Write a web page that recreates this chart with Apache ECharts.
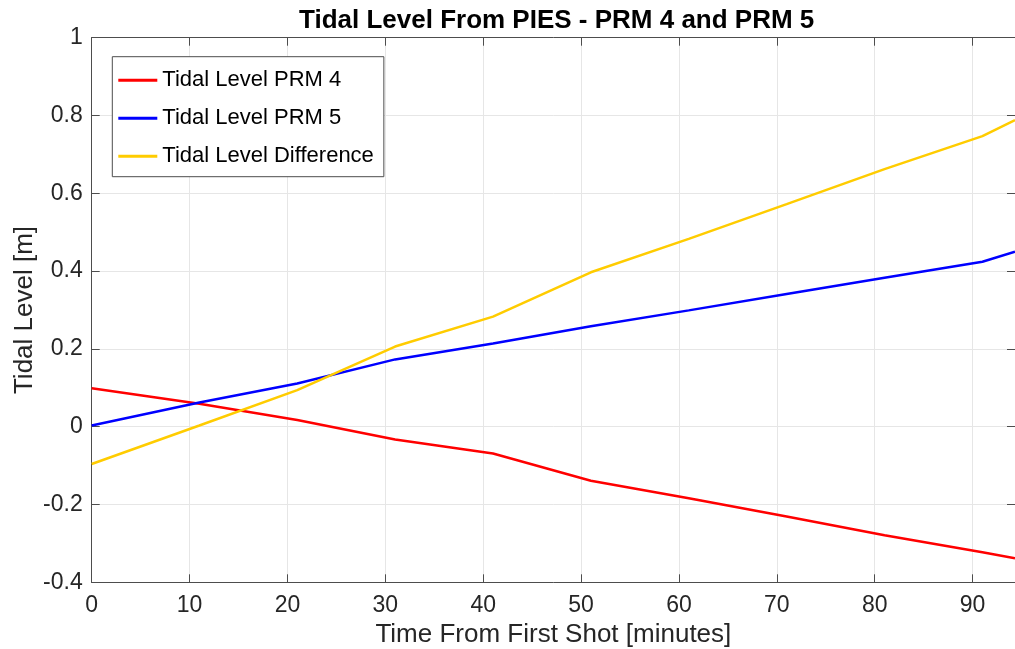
<!DOCTYPE html>
<html>
<head>
<meta charset="utf-8">
<script src="https://cdn.jsdelivr.net/npm/echarts@6/dist/echarts.min.js"></script>
<style>
html,body{margin:0;padding:0;background:#fff;}
#chart{width:1015px;height:649px;}
</style>
</head>
<body>
<div id="chart"></div>
<script>
// Data
const times = [0, 11, 21, 31, 41, 51, 61, 71, 81, 91, 94.33];
const prm4 = [0.099, 0.059, 0.017, -0.033, -0.069, -0.139, -0.184, -0.231, -0.279, -0.323, -0.338];
const prm5 = [0.003, 0.062, 0.111, 0.173, 0.214, 0.258, 0.299, 0.341, 0.383, 0.424, 0.450];
const diff = [-0.096, 0.003, 0.094, 0.206, 0.283, 0.397, 0.483, 0.572, 0.662, 0.747, 0.788];
const seriesNames = ['Tidal Level PRM 4', 'Tidal Level PRM 5', 'Tidal Level Difference'];
const xTicks = [0, 10, 20, 30, 40, 50, 60, 70, 80, 90];
const yTicks = [-0.4, -0.2, 0, 0.2, 0.4, 0.6, 0.8, 1];

const FONT = '"Liberation Sans", Arial, Helvetica, sans-serif';
const TXT = '#262626';
const AX = '#4d4d4d';
const GRIDC = '#e6e6e6';

const pairs = v => times.map((t, i) => [t, v[i]]);
const fmtX = v => xTicks.some(t => Math.abs(t - v) < 1e-6) ? String(Math.round(v)) : '';
const fmtY = v => yTicks.some(t => Math.abs(t - v) < 1e-6) ? String(Math.round(v * 10) / 10) : '';

const chart = echarts.init(document.getElementById('chart'), null, {renderer: 'canvas'});
const lineSeries = (name, data, color) => ({
  name, type: 'line', data: pairs(data), showSymbol: false, symbol: 'none',
  lineStyle: {color, width: 2.5}, itemStyle: {color}, animation: false, z: 3
});

chart.setOption({
  animation: false,
  backgroundColor: '#ffffff',
  title: {
    text: 'Tidal Level From PIES - PRM 4 and PRM 5',
    left: 299, top: 8, padding: 0,
    textStyle: {fontFamily: FONT, fontSize: 26, fontWeight: 'bold', color: '#000'}
  },
  grid: {left: 91.7, top: 37.7, right: 0, bottom: 66.7, containLabel: false, outerBoundsMode: 'none'},
  legend: {
    orient: 'vertical', left: 112.3, top: 56.7,
    padding: [12.6, 10, 9.4, 6], itemGap: 16,
    itemWidth: 39, itemHeight: 3, icon: 'rect',
    backgroundColor: '#fff', borderColor: AX, borderWidth: 1, borderRadius: 0,
    textStyle: {fontFamily: FONT, fontSize: 22, color: '#000', padding: [0, 0, 0, 0]},
    data: seriesNames
  },
  xAxis: [{
    type: 'value', min: 0, max: 94.33, interval: 10,
    name: 'Time From First Shot [minutes]', nameLocation: 'middle', nameGap: 40,
    nameMoveOverlap: false,
    nameTextStyle: {fontFamily: FONT, fontSize: 26, color: TXT},
    axisLine: {show: true, onZero: false, lineStyle: {color: AX, width: 1}},
    axisTick: {show: true, inside: true, length: 8, lineStyle: {color: AX}},
    axisLabel: {fontFamily: FONT, fontSize: 23, color: TXT, margin: 12, formatter: fmtX, showMaxLabel: false},
    splitLine: {show: true, lineStyle: {color: GRIDC, width: 1}}
  }, {
    type: 'value', min: 0, max: 94.33, interval: 10, position: 'top',
    axisLine: {show: true, onZero: false, lineStyle: {color: AX, width: 1}},
    axisTick: {show: true, inside: true, length: 8, lineStyle: {color: AX}},
    axisLabel: {show: false}, splitLine: {show: false}
  }],
  yAxis: [{
    type: 'value', min: -0.4, max: 1, interval: 0.2,
    name: 'Tidal Level [m]', nameLocation: 'middle', nameGap: 54,
    nameMoveOverlap: false,
    nameTextStyle: {fontFamily: FONT, fontSize: 26, color: TXT},
    axisLine: {show: true, onZero: false, lineStyle: {color: AX, width: 1}},
    axisTick: {show: true, inside: true, length: 8, lineStyle: {color: AX}},
    axisLabel: {fontFamily: FONT, fontSize: 23, color: TXT, margin: 9, formatter: fmtY},
    splitLine: {show: true, lineStyle: {color: GRIDC, width: 1}}
  }, {
    type: 'value', min: -0.4, max: 1, interval: 0.2, position: 'right',
    axisLine: {show: true, onZero: false, lineStyle: {color: AX, width: 1}},
    axisTick: {show: true, inside: true, length: 8, lineStyle: {color: AX}},
    axisLabel: {show: false}, splitLine: {show: false}
  }],
  series: [
    lineSeries(seriesNames[0], prm4, '#ff0000'),
    lineSeries(seriesNames[1], prm5, '#0000ff'),
    lineSeries(seriesNames[2], diff, '#ffcc00')
  ]
});
</script>
</body>
</html>
